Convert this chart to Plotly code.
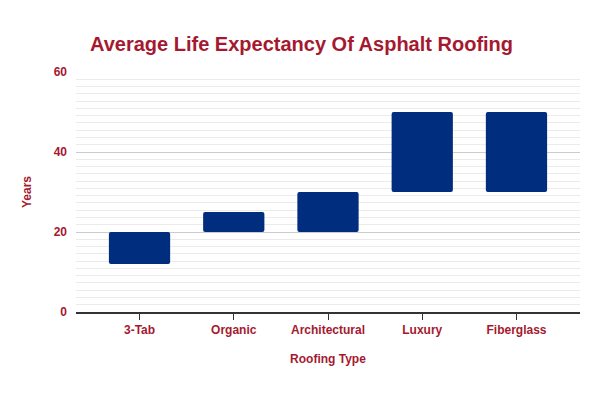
import plotly.graph_objects as go

categories = ["3-Tab", "Organic", "Architectural", "Luxury", "Fiberglass"]
low_years = [12, 20, 20, 30, 30]
high_years = [20, 25, 30, 50, 50]
y_ticks = [0, 20, 40, 60]

RED = "#a51930"
NAVY = "#002d7d"

fig = go.Figure()
fig.add_trace(go.Bar(
    x=list(range(len(categories))),
    y=[h - l for h, l in zip(high_years, low_years)],
    base=low_years,
    width=0.65,
    marker=dict(color=NAVY, line=dict(width=0), cornerradius=2),
    hoverinfo="skip",
))

fig.update_layout(
    width=600, height=400,
    margin=dict(l=68, r=28, t=64, b=96),
    paper_bgcolor="white", plot_bgcolor="white",
    showlegend=False,
    font=dict(family="Liberation Sans, Arial, sans-serif", color=RED),
    title=dict(text="Average Life Expectancy Of Asphalt Roofing",
               x=82/600, xanchor="left", y=1-36/400, yanchor="middle",
               font=dict(size=20, color=RED, weight="bold")),
    xaxis=dict(
        tickmode="array", tickvals=list(range(len(categories))), ticktext=categories,
        range=[-0.674, 4.674],
        showgrid=False, zeroline=False,
        showline=True, linecolor="#333333", linewidth=1.5,
        ticks="outside", ticklen=6, tickcolor="#333333",
        tickfont=dict(size=12, color=RED, weight="bold"),
        title=dict(text="Roofing Type", font=dict(size=12, color=RED, weight="bold"), standoff=18),
    ),
    yaxis=dict(
        range=[0, 60], tickmode="array", tickvals=y_ticks,
        showgrid=True, gridcolor="#cccccc", gridwidth=1,
        zeroline=False, showline=False, ticks="",
        ticklabelstandoff=8,
        tickfont=dict(size=12, color=RED, weight="bold"),
        minor=dict(dtick=20/11, tick0=0, showgrid=True, gridcolor="#ebebeb", gridwidth=1),
        title=dict(text="Years", font=dict(size=12, color=RED, weight="bold"), standoff=19),
    ),
)

fig.write_html("out.html")
